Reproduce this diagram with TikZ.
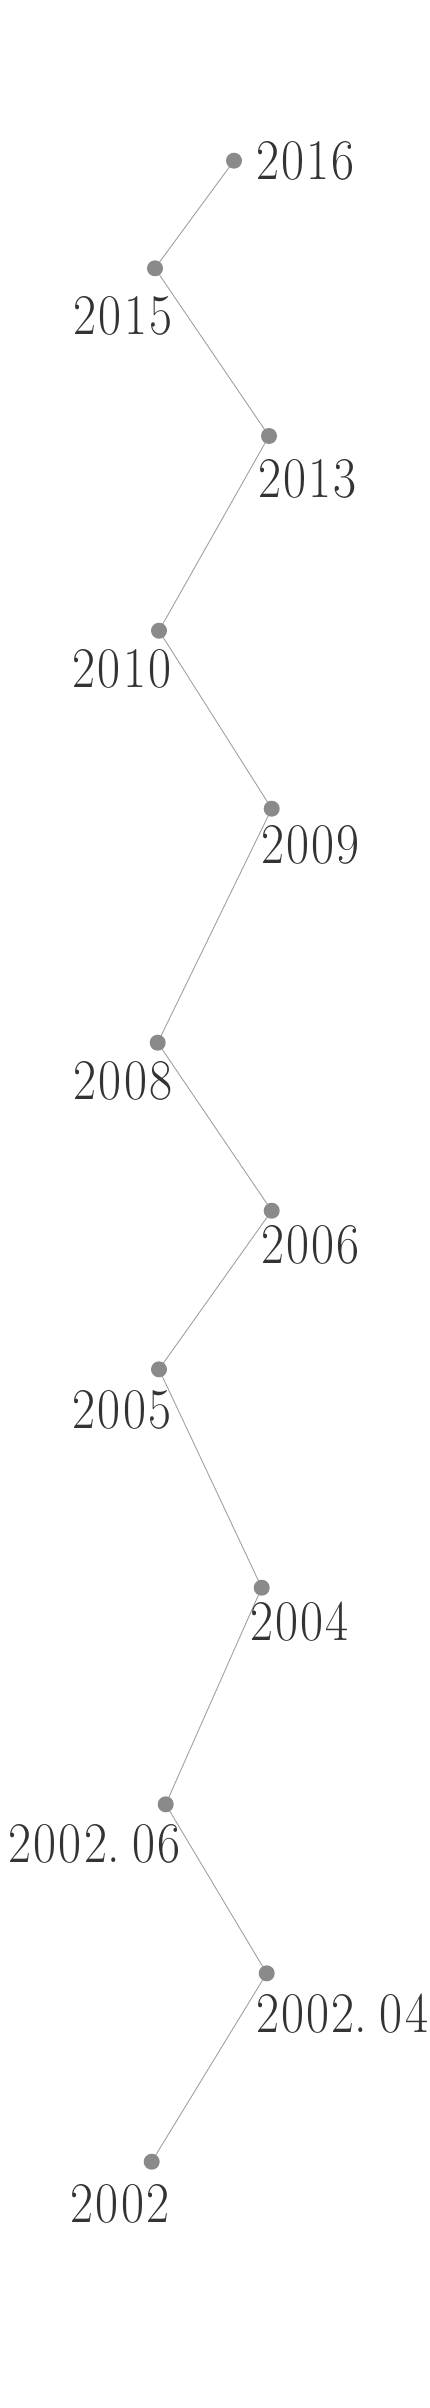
\documentclass[tikz,border=0pt]{standalone}
\usepackage{fontspec}
\usepackage{graphicx}
\newfontfamily\yrfont[LetterSpace=4.5]{Latin Modern Roman}
\definecolor{dotgray}{HTML}{8A8A8A}
\definecolor{linegray}{HTML}{A0A0A0}
\definecolor{textgray}{HTML}{333333}
\newcommand{\yr}[1]{\scalebox{0.87}[1]{\yrfont\fontsize{57.5}{60}\selectfont #1}}
\begin{document}
\begin{tikzpicture}[x=1pt,y=-1pt,
  dot/.style={circle,fill=dotgray,inner sep=0pt,minimum size=16pt},
  link/.style={draw=linegray,line width=0.9pt},
  yearr/.style={anchor=base west,inner sep=0pt,text=textgray},
  yearl/.style={anchor=base east,inner sep=0pt,text=textgray}]
\useasboundingbox (0,0) rectangle (430,2408);
\coordinate (c1) at (234,160.7);
\coordinate (c2) at (155,268.3);
\coordinate (c3) at (269,436);
\coordinate (c4) at (159,630.7);
\coordinate (c5) at (271.7,808.7);
\coordinate (c6) at (157.7,1042.7);
\coordinate (c7) at (271.7,1210.7);
\coordinate (c8) at (159,1369.3);
\coordinate (c9) at (261.7,1587.7);
\coordinate (c10) at (165.7,1804.3);
\coordinate (c11) at (266.7,1973.3);
\coordinate (c12) at (151.7,2161.7);
\draw[link] (c1) -- (c2) -- (c3) -- (c4) -- (c5) -- (c6) -- (c7) -- (c8) -- (c9) -- (c10) -- (c11) -- (c12);
\node[dot] (d2016) at (c1) {};
\node[dot] (d2015) at (c2) {};
\node[dot] (d2013) at (c3) {};
\node[dot] (d2010) at (c4) {};
\node[dot] (d2009) at (c5) {};
\node[dot] (d2008) at (c6) {};
\node[dot] (d2006) at (c7) {};
\node[dot] (d2005) at (c8) {};
\node[dot] (d2004) at (c9) {};
\node[dot] (d200206) at (c10) {};
\node[dot] (d200204) at (c11) {};
\node[dot] (d2002) at (c12) {};
\node[yearr] (t2016) at (256,180) {\yr{2016}};
\node[yearl] (t2015) at (172.5,334) {\yr{2015}};
\node[yearr] (t2013) at (258,497) {\yr{2013}};
\node[yearl] (t2010) at (171.5,687) {\yr{2010}};
\node[yearr] (t2009) at (261,863) {\yr{2009}};
\node[yearl] (t2008) at (172.5,1099) {\yr{2008}};
\node[yearr] (t2006) at (261,1263) {\yr{2006}};
\node[yearl] (t2005) at (171.5,1428) {\yr{2005}};
\node[yearr] (t2004) at (250,1640) {\yr{2004}};
\node[yearl] (t200206) at (180.5,1862) {\yr{2002\makebox[0.5em][l]{.}06}};
\node[yearr] (t200204) at (256,2032) {\yr{2002\makebox[0.5em][l]{.}04}};
\node[yearl] (t2002) at (169.5,2222) {\yr{2002}};
\end{tikzpicture}
\end{document}
